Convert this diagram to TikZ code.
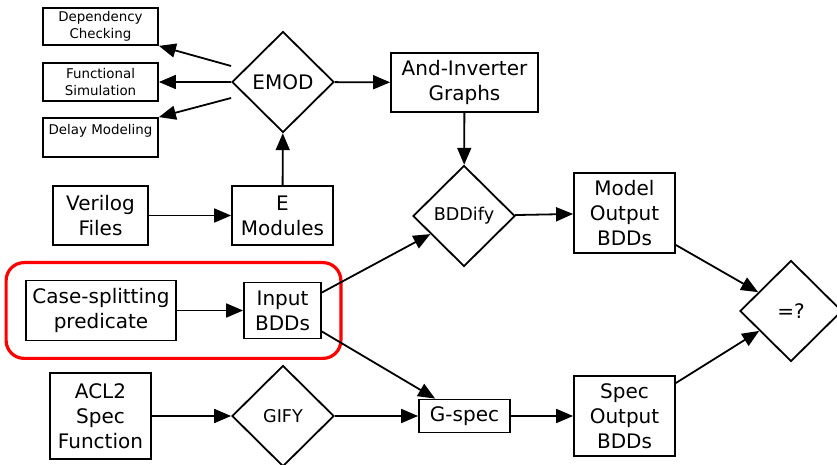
\documentclass[tikz,border=0pt]{standalone}
\usepackage{fontspec}
\setmainfont{DejaVu Sans}
\usetikzlibrary{positioning, fit, backgrounds, arrows.meta, shapes.geometric}
\definecolor{framecol}{RGB}{255, 0, 0}
\tikzset{
  box/.style={draw, line width=0.9pt, align=center, inner sep=0pt,
              font=\fontsize{10}{12.5}\selectfont},
  smallbox/.style={box, minimum width=57.5pt, font=\fontsize{6.7}{8.5}\selectfont},
  choice/.style={draw, diamond, aspect=1, line width=0.9pt, inner sep=0pt,
                 minimum width=51pt, minimum height=50.5pt, font=\fontsize{10}{12.5}\selectfont},
  flow/.style={-{Triangle[length=8.5pt, width=7pt]}, line width=0.9pt},
}

\begin{document}
\begin{tikzpicture}[x=0.5pt, y=-0.5pt]
  \useasboundingbox (0,0) rectangle (837,465);

  % EMOD and its outputs
  \node[smallbox, minimum height=18.5pt] (dep)   at (100.5,26.5)  {Dependency\\Checking};
  \node[smallbox, minimum height=19pt]   (fun)   at (100.5,82)    {Functional\\Simulation};
  \node[smallbox, minimum height=19.5pt] (delay) at (100.5,137.5) {Delay Modeling\\~};
  \node[choice]                          (emod)  at (283,82)      {EMOD};
  \node[box, minimum width=73.5pt, minimum height=29.5pt] (ai) at (464.5,82.5) {And-Inverter\\Graphs};

  % model side
  \node[box, minimum width=47.5pt, minimum height=29.5pt] (verilog) at (100.5,215.5) {Verilog\\Files};
  \node[box, minimum width=50.5pt, minimum height=29.5pt] (emods)   at (282.5,215.5) {E\\Modules};
  \node[choice, font=\fontsize{8.8}{11}\selectfont] (bddify) at (464,216) {BDDify};
  \node[box, minimum width=50.5pt, minimum height=40pt] (model) at (624.5,213) {Model\\Output\\BDDs};

  % inputs
  \node[box, minimum width=75pt, minimum height=30pt]   (case)  at (101,310.5) {Case-splitting\\predicate};
  \node[box, minimum width=38.5pt, minimum height=28pt] (input) at (282.5,310.5) {Input\\BDDs};
  \node[choice] (eq) at (791,311) {=?};

  % spec side
  \node[box, minimum width=50.5pt, minimum height=43pt]   (acl2)  at (100.5,416) {ACL2\\Spec\\Function};
  \node[choice, font=\fontsize{8.8}{11}\selectfont]       (gify)  at (283,416) {GIFY};
  \node[box, minimum width=45.5pt, minimum height=16.5pt] (gspec) at (464.5,416) {G-spec};
  \node[box, minimum width=50.5pt, minimum height=40pt]   (spec)  at (624.5,416) {Spec\\Output\\BDDs};

  \draw[flow] ([yshift=8pt]emod.west)  -- (dep.south east);
  \draw[flow] (emod) -- (fun);
  \draw[flow] ([yshift=-8pt]emod.west) -- (delay.north east);
  \draw[flow] (emod) -- (ai);
  \draw[flow] (emods) -- (emod);
  \draw[flow] (verilog) -- (emods);
  \draw[flow] (ai) -- (bddify);
  \draw[flow] (bddify) -- (model);
  \draw[flow] (case) -- (input);
  \draw[flow] ([yshift=9pt]input.east) -- (bddify);
  \draw[flow] ([yshift=-10.5pt]input.east) -- (gspec);
  \draw[flow] (acl2) -- (gify);
  \draw[flow] (gify) -- (gspec);
  \draw[flow] (gspec) -- (spec);
  \draw[flow] ([yshift=-16pt]model.east) -- (eq);
  \draw[flow] ([yshift=16.5pt]spec.east) -- (eq);

  \begin{scope}[on background layer]
    \node[draw=framecol, line width=1.6pt, rounded corners=9pt, fit=(case)(input),
          inner xsep=9.5pt, inner ysep=8.5pt] (frame) {};
  \end{scope}
\end{tikzpicture}
\end{document}
